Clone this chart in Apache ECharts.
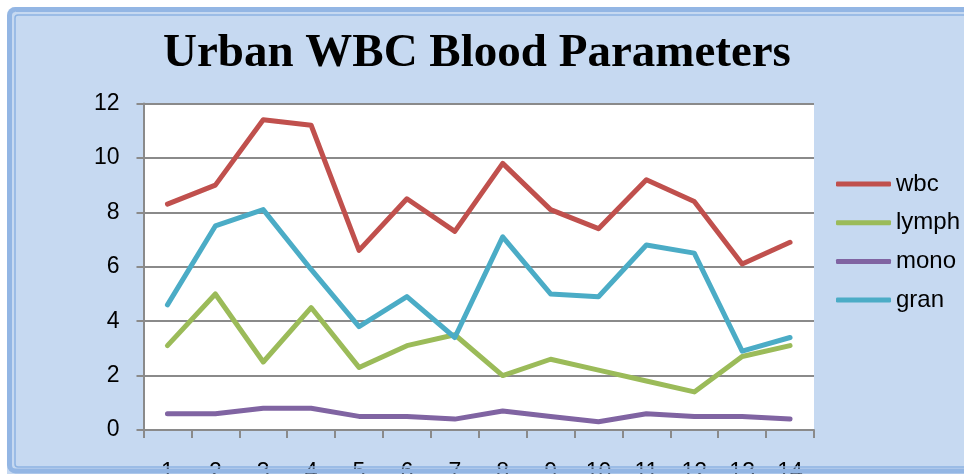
<!DOCTYPE html>
<html>
<head>
<meta charset="utf-8">
<script src="https://cdn.jsdelivr.net/npm/echarts@6/dist/echarts.min.js"></script>
<style>
  html, body { margin: 0; padding: 0; background: #fff; }
  #wrap { position: relative; width: 964px; height: 474px; overflow: hidden; }
  #panel { position: absolute; left: 7px; top: 7px; width: 1000px; height: 500px;
           background: #c6d9f1; border-radius: 8px; }
  #chart { position: absolute; left: 0; top: 0; width: 964px; height: 474px; }
</style>
</head>
<body>
<div id="wrap">
  <div id="panel"></div>
  <div id="chart"></div>
</div>
<script>
// values
const categories = ['1', '2', '3', '4', '5', '6', '7', '8', '9', '10', '11', '12', '13', '14']
const wbc   = [8.3, 9.0, 11.4, 11.2, 6.6, 8.5, 7.3, 9.8, 8.1, 7.4, 9.2, 8.4, 6.1, 6.9]
const lymph = [3.1, 5.0, 2.5, 4.5, 2.3, 3.1, 3.5, 2.0, 2.6, 2.2, 1.8, 1.4, 2.7, 3.1]
const mono  = [0.6, 0.6, 0.8, 0.8, 0.5, 0.5, 0.4, 0.7, 0.5, 0.3, 0.6, 0.5, 0.5, 0.4]
const gran  = [4.6, 7.5, 8.1, 5.9, 3.8, 4.9, 3.4, 7.1, 5.0, 4.9, 6.8, 6.5, 2.9, 3.4]

const colors = { wbc: '#c0504d', lymph: '#9bbb59', mono: '#8064a2', gran: '#4bacc6' }
const labelFont = '"Liberation Sans", Arial, sans-serif'
const gridGray = '#8a8a8a'

function lineSeries(name, data) {
  return {
    name: name,
    type: 'line',
    data: data,
    symbol: 'none',
    showSymbol: false,
    animation: false,
    lineStyle: { width: 5, color: colors[name], cap: 'round', join: 'round' },
    itemStyle: { color: colors[name] }
  }
}

const chart = echarts.init(document.getElementById('chart'), null, { renderer: 'canvas' })

chart.setOption({
  backgroundColor: 'transparent',
  animation: false,
  title: {
    text: 'Urban WBC Blood Parameters',
    left: 163,
    top: 30,
    padding: 0,
    textStyle: {
      fontFamily: '"Liberation Serif", "Times New Roman", serif',
      fontWeight: 'bold',
      fontSize: 47,
      color: '#000'
    }
  },
  legend: {
    orient: 'vertical',
    left: 836,
    top: 172,
    padding: 0,
    icon: 'roundRect',
    itemWidth: 55,
    itemHeight: 5,
    itemGap: 14.7,
    textStyle: { fontFamily: labelFont, fontSize: 24, color: '#000' },
    data: ['wbc', 'lymph', 'mono', 'gran']
  },
  grid: {
    left: 143.5,
    right: 150,
    top: 103.5,
    bottom: 44,
    outerBoundsMode: 'none',
    containLabel: false,
    show: true,
    backgroundColor: '#ffffff',
    borderWidth: 0
  },
  xAxis: {
    type: 'category',
    data: categories,
    boundaryGap: true,
    axisLine: { show: true, lineStyle: { color: gridGray, width: 2 } },
    axisTick: { show: true, length: 8, alignWithLabel: false, lineStyle: { color: gridGray, width: 2 } },
    axisLabel: { margin: 31, fontFamily: labelFont, fontSize: 23, color: '#000', interval: 0 },
    splitLine: { show: false }
  },
  yAxis: {
    type: 'value',
    min: 0,
    max: 12,
    interval: 2,
    axisLine: { show: true, lineStyle: { color: gridGray, width: 2 } },
    axisTick: { show: true, length: 7, lineStyle: { color: gridGray, width: 2 } },
    axisLabel: { margin: 24, fontFamily: labelFont, fontSize: 23, color: '#000' },
    splitLine: { show: true, lineStyle: { color: gridGray, width: 2 } }
  },
  graphic: [
    {
      type: 'rect',
      z: 100,
      silent: true,
      shape: { x: 9.5, y: 9.5, width: 1000, height: 461.5, r: 6 },
      style: { fill: 'none', stroke: '#93b6e4', lineWidth: 5 }
    },
    {
      type: 'rect',
      z: 101,
      silent: true,
      shape: { x: 15, y: 15, width: 1000, height: 452, r: 3 },
      style: { fill: 'none', stroke: '#8db3e2', lineWidth: 1.5 }
    }
  ],
  series: [
    lineSeries('wbc', wbc),
    lineSeries('lymph', lymph),
    lineSeries('mono', mono),
    lineSeries('gran', gran)
  ]
})
</script>
</body>
</html>
